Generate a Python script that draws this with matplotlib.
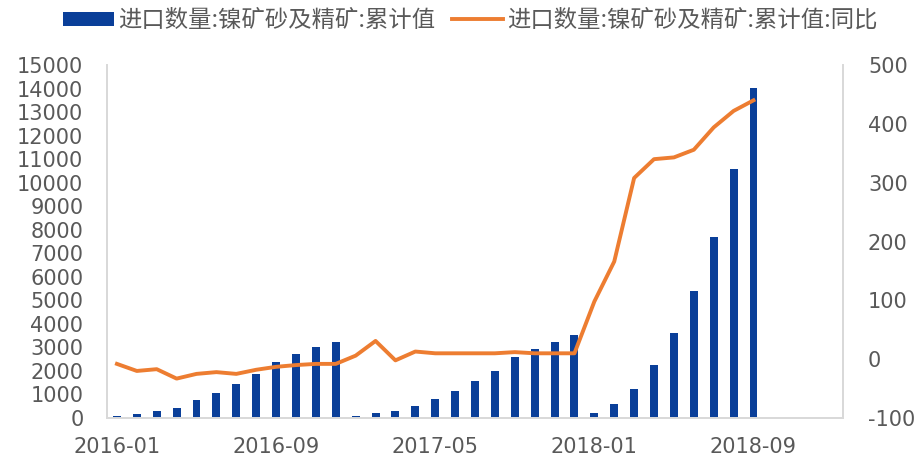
import matplotlib.pyplot as plt
import numpy as np

plt.rcParams['font.family'] = ['DejaVu Sans', 'Noto Sans CJK SC']
plt.rcParams['axes.unicode_minus'] = False

# monthly, 2016-01 .. 2019-01 (last months empty)
months = ['%d-%02d' % (y, m) for y in (2016, 2017, 2018, 2019) for m in range(1, 13)][:37]

# 累计值 (吨)
cum_value = [100, 150, 300, 430, 780, 1075, 1430, 1870, 2360, 2720, 3000, 3230,
             80, 210, 300, 510, 790, 1160, 1585, 2010, 2575, 2930, 3230, 3530,
             230, 580, 1230, 2240, 3600, 5415, 7690, 10570, 14010]

# 累计值:同比 (%)
yoy = [-8, -20, -17, -33, -25, -22, -25, -18, -13, -10, -8, -8,
       6, 31, -2, 13, 10, 10, 10, 10, 12, 10, 10, 10,
       98, 166, 308, 340, 343, 356, 394, 422, 440]

bar_label = '进口数量:镍矿砂及精矿:累计值'
line_label = '进口数量:镍矿砂及精矿:累计值:同比'

fig = plt.figure(figsize=(9.2, 4.59), dpi=100)
ax = fig.add_axes([0.1163, 0.0893, 0.8, 0.769])
ax2 = ax.twinx()

x = np.arange(len(cum_value))
ax.bar(x, cum_value, width=0.4, color='#0A3F99', label=bar_label, zorder=2)
ax2.plot(x, yoy, color='#ED7D31', linewidth=2.8, label=line_label, zorder=3,
         solid_joinstyle='round')

ax.set_xlim(-0.5, len(months) - 0.5)
ax.set_ylim(0, 15000)
ax.set_yticks(range(0, 15001, 1000))
ax2.set_ylim(-100, 500)
ax2.set_yticks(range(-100, 501, 100))

ticks = list(range(0, len(months), 8))
ax.set_xticks(ticks)
ax.set_xticklabels([months[i] for i in ticks])

grey = '#595959'
for a in (ax, ax2):
    a.tick_params(length=0, labelsize=15, colors=grey)
    a.spines['top'].set_visible(False)
    for s in ('left', 'right', 'bottom'):
        a.spines[s].set_color('#D9D9D9')
        a.spines[s].set_linewidth(1.3)
ax.tick_params(axis='y', pad=17)
ax.tick_params(axis='x', pad=14)
ax2.tick_params(axis='y', pad=18)

h1, l1 = ax.get_legend_handles_labels()
h2, l2 = ax2.get_legend_handles_labels()
leg = fig.legend(h1 + h2, l1 + l2, loc='center', bbox_to_anchor=(0.511, 0.955),
                 ncol=2, frameon=False, labelcolor=grey,
                 prop={'family': ['Noto Sans CJK SC', 'DejaVu Sans'], 'size': 16.8},
                 handlelength=2.2, handleheight=0.6, handletextpad=0.18,
                 columnspacing=0.7, borderpad=0)

fig.savefig('out.png', dpi=100)
